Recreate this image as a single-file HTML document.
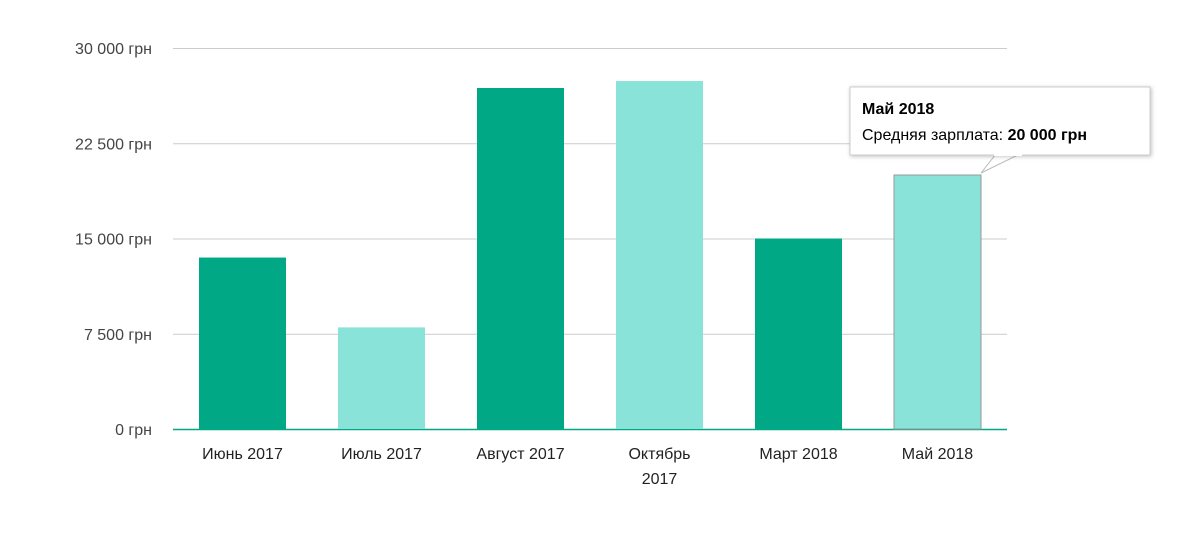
<!DOCTYPE html>
<html><head><meta charset="utf-8"><style>
body{margin:0;background:#fff;font-family:"Liberation Sans",Arial,sans-serif;}
svg text{font-family:"Liberation Sans",Arial,sans-serif;}
</style></head><body>
<svg id="chart" width="1200" height="544" xmlns="http://www.w3.org/2000/svg">
<g id="grid"></g><g id="bars"></g><g id="xlabels"></g>
<g id="tooltip">
<polygon points="996,154 1020,154 981,173" fill="#fff" stroke="#bbb" stroke-width="1"/>
<rect x="850" y="87" width="300" height="68" fill="#fff" stroke="#ccc" stroke-width="1" filter="drop-shadow(1px 1px 2px rgba(0,0,0,0.25))"/>
<rect x="994" y="152" width="28" height="4" fill="#fff"/>
<text x="862" y="114" font-size="16" font-weight="bold" fill="#000">Май 2018</text>
<text x="862" y="140" font-size="16" fill="#000">Средняя зарплата: <tspan font-weight="bold">20 000 грн</tspan></text>
</g>
</svg>
<script>
const categories=[["Июнь 2017"],["Июль 2017"],["Август 2017"],["Октябрь","2017"],["Март 2018"],["Май 2018"]];
const values=[13500,8000,26850,27400,15000,20000];
const colors=["#00a885","#8ae3d9","#00a885","#8ae3d9","#00a885","#8ae3d9"];
const ticks=[0,7500,15000,22500,30000];
const tickLabels=["0 грн","7 500 грн","15 000 грн","22 500 грн","30 000 грн"];
const NS="http://www.w3.org/2000/svg";
const x0=173,x1=1007,yBase=429,yTop=48,maxV=30000;
const y=v=>yBase-(v/maxV)*(yBase-yTop);
const step=(x1-x0)/categories.length;
const bw=87;
const grid=document.getElementById('grid');
ticks.forEach((t,i)=>{
  const l=document.createElementNS(NS,'line');
  
  
  l.setAttribute('x1',x0);l.setAttribute('x2',x1);
  l.setAttribute('y1',y(t)+0.5);l.setAttribute('y2',y(t)+0.5);
  l.setAttribute('stroke',t===0?'#00a885':'#ccc');
  l.setAttribute('stroke-width',t===0?1.5:1);
  grid.appendChild(l);
  const tx=document.createElementNS(NS,'text');
  
  
  tx.setAttribute('x',152);tx.setAttribute('y',y(t)+6);
  tx.setAttribute('text-anchor','end');tx.setAttribute('font-size','16');tx.setAttribute('fill','#444');
  tx.textContent=tickLabels[i];
  grid.appendChild(tx);
});
const bars=document.getElementById('bars'),xl=document.getElementById('xlabels');
values.forEach((v,i)=>{
  const cx=x0+step*(i+0.5);
  const r=document.createElementNS(NS,'rect');
  
  
  r.setAttribute('x',cx-bw/2);r.setAttribute('width',bw);
  r.setAttribute('y',y(v));r.setAttribute('height',yBase-y(v));
  r.setAttribute('fill',colors[i]);
  if(i===values.length-1){r.setAttribute('stroke','#999');r.setAttribute('stroke-width','1');}
  bars.appendChild(r);
  categories[i].forEach((line,j)=>{
    const t=document.createElementNS(NS,'text');
    
    
    t.setAttribute('x',cx);t.setAttribute('y',459+j*25);
    t.setAttribute('text-anchor','middle');t.setAttribute('font-size','16');t.setAttribute('fill','#222');
    t.textContent=line;
    xl.appendChild(t);
  });
});
</script>
</body></html>
